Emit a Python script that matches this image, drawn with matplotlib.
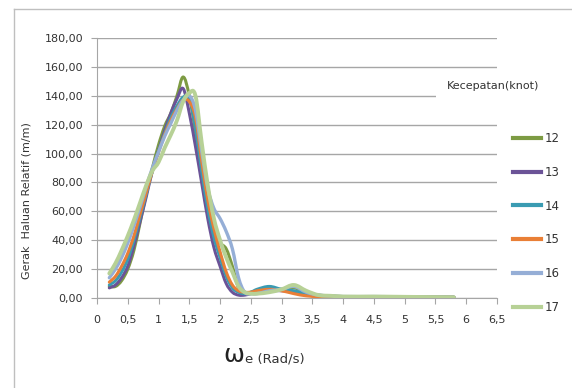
import matplotlib
matplotlib.use("Agg")
import matplotlib.pyplot as plt
from matplotlib.path import Path
from matplotlib.patches import PathPatch
from matplotlib.lines import Line2D
import numpy as np

plt.rcParams['font.family'] = ['DejaVu Sans']

# omega_e (rad/s)
omega = [0.2, 0.3, 0.4, 0.5, 0.6, 0.7, 0.8, 0.9, 1.0, 1.1, 1.2, 1.3, 1.4, 1.5,
         1.6, 1.7, 1.8, 1.9, 2.0, 2.1, 2.2, 2.3, 2.4, 2.5, 2.6, 2.8, 3.0, 3.2,
         3.4, 3.6, 3.8, 4.0, 4.5, 5.0, 5.5, 5.8]

speeds = ['12', '13', '14', '15', '16', '17']

v12 = [8, 8, 12, 20, 33, 52, 72, 90, 106, 119, 128, 140, 153, 140,
       115, 88, 62, 45, 38, 34, 22, 7, 4, 4, 5, 6, 6, 7,
       4, 2, 1.5, 1, 1, 0.8, 0.6, 0.5]
v13 = [7, 9, 14, 22, 36, 53, 70, 88, 102, 116, 128, 138, 145, 128,
       105, 80, 55, 35, 22, 10, 4, 2, 2, 3, 4, 5, 5, 4,
       2, 1.5, 1, 1, 0.8, 0.7, 0.6, 0.5]
v14 = [9, 12, 18, 27, 40, 56, 72, 88, 102, 114, 125, 133, 139, 138,
       118, 88, 62, 42, 28, 15, 7, 4, 3, 4, 6, 8, 6, 5,
       3, 1.5, 1, 1, 0.8, 0.7, 0.6, 0.5]
v15 = [11, 15, 22, 31, 43, 58, 73, 88, 101, 113, 123, 131, 137, 136,
       125, 95, 68, 48, 32, 18, 9, 5, 4, 4, 5, 6, 5, 3,
       1.5, 1, 1, 1, 0.8, 0.7, 0.6, 0.5]
v16 = [14, 20, 28, 38, 50, 63, 77, 90, 101, 112, 121, 130, 137, 140,
       130, 102, 76, 62, 55, 46, 34, 14, 4, 3, 3, 5, 6, 8,
       4, 2, 1.5, 1, 1, 0.8, 0.6, 0.5]
v17 = [17, 24, 33, 43, 54, 66, 78, 88, 94, 104, 113, 123, 136, 142,
       140, 108, 78, 55, 40, 28, 18, 8, 4, 3, 3, 4, 6, 9,
       5, 2, 1.5, 1, 1, 0.8, 0.6, 0.5]

series = [v12, v13, v14, v15, v16, v17]
colors = ['#7D9B43', '#6B5397', '#3A9BB2', '#E97F36', '#95AED6', '#B7D196']
widths = [2.2, 2.2, 2.2, 2.2, 2.4, 2.8]


def smooth_path(x, y, t=0.35):
    # Excel-like smoothed line: cubic bezier through every data point
    x = np.asarray(x, float)
    y = np.asarray(y, float)
    verts = [(x[0], y[0])]
    codes = [Path.MOVETO]
    n = len(x)
    for i in range(n - 1):
        x0, y0 = (x[i - 1], y[i - 1]) if i > 0 else (x[i], y[i])
        x3, y3 = (x[i + 2], y[i + 2]) if i + 2 < n else (x[i + 1], y[i + 1])
        h = x[i + 1] - x[i]
        dx1 = (x[i + 1] - x0) * t * h / max(x[i + 1] - x0, 1e-9)
        dy1 = (y[i + 1] - y0) * t * h / max(x[i + 1] - x0, 1e-9)
        dx2 = (x3 - x[i]) * t * h / max(x3 - x[i], 1e-9)
        dy2 = (y3 - y[i]) * t * h / max(x3 - x[i], 1e-9)
        verts += [(x[i] + dx1, y[i] + dy1), (x[i + 1] - dx2, y[i + 1] - dy2),
                  (x[i + 1], y[i + 1])]
        codes += [Path.CURVE4] * 3
    return Path(verts, codes)


fig = plt.figure(figsize=(5.72, 3.88), dpi=100)
ax = fig.add_axes([97 / 572, 90 / 388, 400 / 572, 260 / 388])

for vals, c, lw in zip(series, colors, widths):
    patch = PathPatch(smooth_path(omega, vals), facecolor='none', edgecolor=c,
                      lw=lw, capstyle='round', joinstyle='round', zorder=3)
    ax.add_patch(patch)

ax.set_xlim(0, 6.5)
ax.set_ylim(0, 180)
xt = np.arange(0, 6.51, 0.5)
yt = np.arange(0, 181, 20)
ax.set_xticks(xt)
ax.set_xticklabels([('%g' % v).replace('.', ',') for v in xt])
ax.set_yticks(yt)
ax.set_yticklabels([('%.2f' % v).replace('.', ',') for v in yt])
ax.yaxis.grid(True, color='#A6A6A6', lw=1)
ax.set_axisbelow(True)
for s in ['top', 'right']:
    ax.spines[s].set_visible(False)
for s in ['left', 'bottom']:
    ax.spines[s].set_color('#A6A6A6')
ax.tick_params(axis='both', colors='#A6A6A6', labelcolor='#333333',
               labelsize=8, length=4, direction='out')
ax.tick_params(axis='x', pad=8)
ax.tick_params(axis='y', pad=6)

ax.set_ylabel('Gerak  Haluan Relatif (m/m)', fontsize=8, color='#333333')
ax.yaxis.set_label_coords(-65 / 400, (298 - 201) / 260)

fig.text(244 / 572, 1 - 362 / 388, '\u03c9', fontsize=18, ha='right',
         va='baseline', color='#222222')
fig.text(245 / 572, 1 - 362 / 388, 'e (Rad/s)', fontsize=9.5, ha='left',
         va='baseline', color='#333333')

# legend
handles = [Line2D([], [], color=c, lw=3) for c in colors]
fig.legend(handles, speeds, loc='upper left',
           bbox_to_anchor=(513 / 572, 1 - 132 / 388), frameon=False,
           borderpad=0, borderaxespad=0, handlelength=2.4, handletextpad=0.25,
           labelspacing=1.76, fontsize=8.5, labelcolor='#333333')
fig.text(447 / 572, 1 - 86 / 388, 'Kecepatan(knot)', fontsize=8,
         ha='left', va='center', color='#333333', zorder=5,
         bbox=dict(facecolor='white', edgecolor='none', pad=8))

# chart area border (top and left edges only are visible)
bx = 13.5 / 572
by = 1 - 8.5 / 388
fig.add_artist(Line2D([bx, bx], [0, by], transform=fig.transFigure,
                      color='#BFBFBF', lw=1))
fig.add_artist(Line2D([bx, 1], [by, by], transform=fig.transFigure,
                      color='#BFBFBF', lw=1))

fig.savefig('out.png', dpi=100)
